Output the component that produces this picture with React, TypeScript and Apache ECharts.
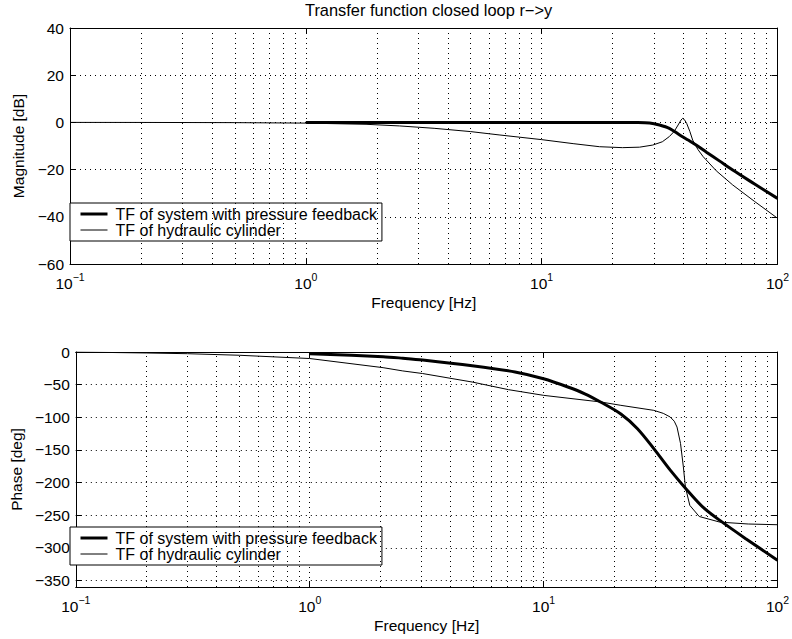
import React, { useEffect, useRef } from "react";
import * as echarts from "echarts";

// ---------- data ----------
const NAME_A = "TF of system with pressure feedback";
const NAME_B = "TF of hydraulic cylinder";

// Magnitude [dB]
const F_THICK_MAG = [1, 2, 5, 10, 20, 25, 28.7, 31.6, 34.8, 38.5, 42, 45.2, 50, 56.7, 64.6, 80, 100];
const MAG_THICK = [0, 0, 0, 0, 0, -0.05, -0.25, -1.1, -2.5, -5.3, -7.6, -9.6, -12.6, -16.3, -20.2, -26.1, -32.2];

const F_THIN_MAG = [0.1, 0.2, 0.5, 1, 1.8, 2.5, 3.5, 5, 6.6, 10, 13.6, 17.6, 22, 26, 29.6, 32.5, 34.8, 36.5, 37.9, 39, 39.6, 40.3, 41.2, 42.5, 43.7, 46, 48.4, 55, 64.6, 80, 100];
const MAG_THIN = [0, -0.02, -0.1, -0.3, -0.8, -1.5, -2.5, -3.9, -5.3, -7.3, -9.0, -10.3, -10.7, -10.5, -9.6, -8.2, -6.0, -3.8, -1.1, 1.0, 1.7, 1.2, -0.4, -3.8, -7.5, -11.5, -14.5, -20.5, -26.5, -33.5, -40.6];

// Phase [deg]
const F_THICK_PH = [1, 2.06, 2.5, 3.04, 4.95, 7.55, 10, 12.7, 15, 17.6, 21.4, 25.2, 29.6, 34.8, 41.2, 48, 56.7, 73.2, 100];
const PH_THICK = [-2.5, -7.2, -9.5, -12.2, -21, -30.6, -41, -53.6, -64, -77, -95, -117.5, -148, -181, -212, -237.6, -258, -286, -319];

const F_THIN_PH = [0.1, 0.2, 0.3, 0.5, 1, 2.06, 2.5, 3.04, 4.95, 7.08, 10, 17.6, 21.4, 29.6, 32.5, 34.8, 36.2, 37.2, 38.5, 39.6, 40.4, 42.2, 46.3, 56.7, 75, 100];
const PH_THIN = [0, -1.5, -2.6, -5, -10, -24, -29, -33, -46, -57.7, -66.4, -76.6, -81.7, -89.4, -94, -99.6, -106, -115, -140, -176, -207, -235, -252, -260.6, -263.5, -264.6];

// minor log grid positions
const MINOR_GRID = [0.2, 0.3, 0.4, 0.5, 0.6, 0.7, 0.8, 0.9, 2, 3, 4, 5, 6, 7, 8, 9, 20, 30, 40, 50, 60, 70, 80, 90];

// ---------- styling ----------
const FONT = '"Liberation Sans", Arial, Helvetica, sans-serif';
const FS = 15.5;
const dotted = { color: "#000", width: 1, type: [1, 4] as any };

const zip = (xs: number[], ys: number[]) => xs.map((x, i) => [x, ys[i]]);
const minus = (v: number) => String(v).replace("-", "\u2212");

function xAxis(gridIndex: number, position: "bottom" | "top", main: boolean) {
  return {
    type: "log",
    logBase: 10,
    min: 0.1,
    max: 100,
    gridIndex,
    position,
    axisLine: { show: true, onZero: false, lineStyle: { color: "#000", width: 1 } },
    axisTick: { show: true, inside: true, length: 6, lineStyle: { color: "#000" } },
    axisLabel: main
      ? {
          show: true,
          margin: 7,
          formatter: (v: number) => {
            const e = Math.round(Math.log10(v));
            return `{b|10}{s|${e < 0 ? "\u2212" + -e : e}}`;
          },
          rich: {
            b: { fontFamily: FONT, fontSize: FS, color: "#000", lineHeight: 20, verticalAlign: "bottom" },
            s: { fontFamily: FONT, fontSize: 10.5, color: "#000", lineHeight: 12, verticalAlign: "top" },
          },
        }
      : { show: false },
    splitLine: main ? { show: true, lineStyle: dotted } : { show: false },
    minorTick: { show: false },
    name: main ? "Frequency [Hz]" : "",
    nameLocation: "middle",
    nameGap: 30,
    nameTextStyle: { fontFamily: FONT, fontSize: FS, color: "#000" },
  };
}

function yAxis(gridIndex: number, position: "left" | "right", main: boolean, range: any, name: string, nameGap: number) {
  const { hideMin, ...r } = range;
  return {
    type: "value",
    gridIndex,
    position,
    ...r,
    axisLine: { show: true, onZero: false, lineStyle: { color: "#000", width: 1 } },
    axisTick: { show: true, inside: true, length: 6, lineStyle: { color: "#000" } },
    axisLabel: main
      ? { show: true, margin: 6, fontFamily: FONT, fontSize: FS, color: "#000", formatter: minus, showMinLabel: hideMin ? false : true }
      : { show: false },
    splitLine: main ? { show: true, lineStyle: dotted } : { show: false },
    name: main ? name : "",
    nameLocation: "middle",
    nameRotate: 90,
    nameGap,
    nameTextStyle: { fontFamily: FONT, fontSize: FS, color: "#000" },
  };
}

function legend(top: number) {
  return {
    left: 70,
    top,
    orient: "vertical",
    data: [
      { name: NAME_A, lineStyle: { width: 3, color: "#000" } },
      { name: NAME_B, lineStyle: { width: 1, color: "#000" } },
    ],
    itemWidth: 27,
    itemHeight: 17,
    itemGap: 0,
    padding: [3, 5, 3, 9],
    borderColor: "#000",
    borderWidth: 1,
    borderRadius: 0,
    backgroundColor: "#fff",
    itemStyle: { opacity: 0 },
    selectedMode: false,
    textStyle: { fontFamily: FONT, fontSize: 16, color: "#000", padding: [0, 0, 0, 3] },
  };
}

function lineSeries(name: string, xi: number, yi: number, data: number[][], width: number, smooth: number | boolean) {
  return {
    name,
    type: "line",
    xAxisIndex: xi,
    yAxisIndex: yi,
    data,
    symbol: "none",
    showSymbol: false,
    smooth,
    lineStyle: { color: "#000", width },
    itemStyle: { color: "#000" },
    emphasis: { disabled: true },
    z: 3,
  };
}

function gridSeries(xi: number, yi: number) {
  return {
    name: "_grid" + xi,
    type: "line",
    xAxisIndex: xi,
    yAxisIndex: yi,
    data: [],
    symbol: "none",
    z: 1,
    silent: true,
    markLine: {
      silent: true,
      symbol: ["none", "none"],
      label: { show: false },
      lineStyle: dotted,
      emphasis: { disabled: true },
      animation: false,
      data: MINOR_GRID.map((f) => ({ xAxis: f })),
    },
  };
}

export default function App() {
  const ref = useRef<HTMLDivElement>(null);
  useEffect(() => {
    if (!ref.current) return;
    const chart = echarts.init(ref.current, null, { renderer: "svg" });
    const magRange = { min: -60, max: 40, interval: 20 };
    const phRange = { min: -360, max: 0, splitNumber: 7, hideMin: true };
    chart.setOption({
      animation: false,
      backgroundColor: "#fff",
      title: {
        text: "Transfer function closed loop r\u2212>y",
        left: 305,
        top: 2,
        padding: 0,
        textStyle: { fontFamily: FONT, fontSize: 16.4, fontWeight: "normal", color: "#000" },
      },
      grid: [
        { left: 70, top: 28, width: 708, height: 236 },
        { left: 70, top: 352, width: 708, height: 235 },
      ],
      xAxis: [xAxis(0, "bottom", true), xAxis(0, "top", false), xAxis(1, "bottom", true), xAxis(1, "top", false)],
      yAxis: [
        yAxis(0, "left", true, magRange, "Magnitude [dB]", 38),
        yAxis(0, "right", false, magRange, "", 0),
        yAxis(1, "left", true, phRange, "Phase [deg]", 46),
        yAxis(1, "right", false, phRange, "", 0),
      ],
      legend: [legend(203), legend(527)],
      series: [
        gridSeries(0, 0),
        gridSeries(2, 2),
        lineSeries(NAME_A, 0, 0, zip(F_THICK_MAG, MAG_THICK), 3, 0.3),
        lineSeries(NAME_B, 0, 0, zip(F_THIN_MAG, MAG_THIN), 1, false),
        lineSeries(NAME_A, 2, 2, zip(F_THICK_PH, PH_THICK), 3, 0.3),
        lineSeries(NAME_B, 2, 2, zip(F_THIN_PH, PH_THIN), 1, false),
      ],
    });
    return () => chart.dispose();
  }, []);
  return (
    <div
      ref={ref}
      style={{ position: "absolute", left: 0, top: 0, width: 792, height: 639, background: "#fff" }}
    />
  );
}
